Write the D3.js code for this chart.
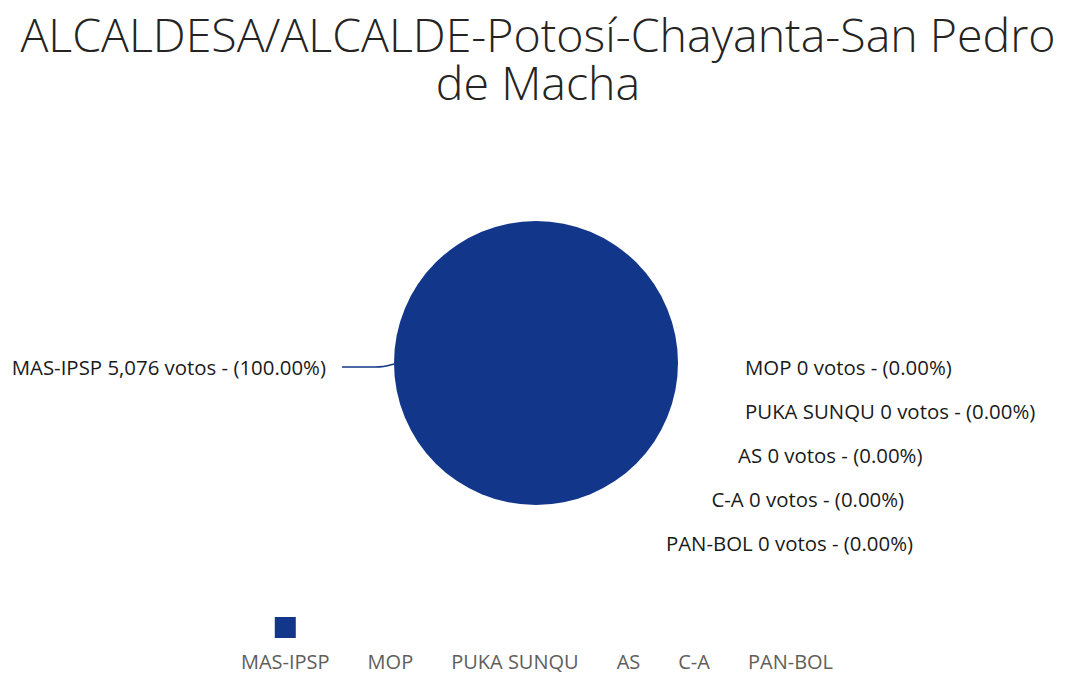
<!DOCTYPE html>
<html>
<head>
<meta charset="utf-8">
<script src="https://cdn.jsdelivr.net/npm/d3@7"></script>
<style>
  body { margin: 0; background: #fff; }
  svg { display: block; }
</style>
</head>
<body>
<div id="chart"></div>
<script>
// pie chart of votes per party, one municipality

var titleLines = ["ALCALDESA/ALCALDE-Potosí-Chayanta-San Pedro", "de Macha"];
var parties = ["MAS-IPSP", "MOP", "PUKA SUNQU", "AS", "C-A", "PAN-BOL"];
var votes = [5076, 0, 0, 0, 0, 0];
var colors = ["#12378a", "#e66c37", "#6b007b", "#e044a7", "#744ec2", "#d9b300"];

var width = 1072, height = 687;
var cx = 536, cy = 363, radius = 142;

var total = d3.sum(votes);
var fmt = d3.format(",");
var pct = function (v) { return "(" + (total ? v / total * 100 : 0).toFixed(2) + "%)"; };

var color = d3.scaleOrdinal().domain(parties).range(colors);

var svg = d3.select("#chart")
    .append("svg")
    .attr("width", width)
    .attr("height", height);

// title, one text element wrapped on two lines
svg.append("text")
    .attr("text-anchor", "middle")
    .style("font-family", "'Open Sans', sans-serif")
    .style("font-weight", 300)
    .style("font-size", "46.5px")
    .style("fill", "#252423")
    .selectAll("tspan")
    .data(titleLines)
    .enter()
    .append("tspan")
    .attr("x", width / 2 + 2)
    .attr("y", function (d, i) { return 52 + i * 48; })
    .text(function (d) { return d; });

var rows = parties.map(function (p, i) { return { party: p, votes: votes[i] }; });

var pie = d3.pie()
    .sort(null)
    .value(function (d) { return d.votes; })
    .startAngle(Math.PI / 2)
    .endAngle(Math.PI / 2 + 2 * Math.PI);

var arcs = pie(rows);
var arc = d3.arc().innerRadius(0).outerRadius(radius);

var g = svg.append("g").attr("transform", "translate(" + cx + "," + cy + ")");

g.selectAll("path.slice")
    .data(arcs.filter(function (d) { return d.data.votes > 0; }))
    .enter()
    .append("path")
    .attr("class", "slice")
    .attr("d", arc)
    .attr("fill", function (d) { return color(d.data.party); });

// labels: non-zero slices get a leader line, zero ones stack on the right
var labelStyle = function (sel) {
    sel.style("font-family", "'Open Sans', sans-serif")
        .style("font-size", "20.4px")
        .style("fill", "#1a1a1a")
        .attr("dominant-baseline", "central");
};

var labelText = function (d) {
    return d.data.party + " " + fmt(d.data.votes) + " votos - " + pct(d.data.votes);
};

var big = arcs.filter(function (d) { return d.data.votes > 0; });
big.forEach(function (d) {
    var mid = (d.startAngle + d.endAngle) / 2;
    var sx = Math.sin(mid), sy = -Math.cos(mid);
    var p0 = [sx * radius, sy * radius + 1];
    var p1 = [sx * (radius + 21), sy * (radius + 21) + 4];
    var p2 = [p1[0] + (sx < 0 ? -31 : 31), p1[1]];
    g.append("path")
        .attr("d", d3.line().curve(d3.curveBasis)([p0, [p0[0] + (p1[0] - p0[0]) * 0.5, p1[1]], p1]) + "L" + p2[0] + "," + p2[1])
        .attr("fill", "none")
        .attr("stroke", color(d.data.party))
        .attr("stroke-width", 1.5);
    g.append("text")
        .attr("x", p2[0] + (sx < 0 ? -16 : 16))
        .attr("y", p2[1])
        .attr("text-anchor", sx < 0 ? "end" : "start")
        .call(labelStyle)
        .text(labelText(d));
});

var small = arcs.filter(function (d) { return d.data.votes === 0; });
var labelR = 222, labelStep = 44, labelMaxX = 209;
small.forEach(function (d, i) {
    var dy = 4 + i * labelStep;
    var dx = Math.min(labelMaxX, Math.sqrt(Math.max(0, labelR * labelR - dy * dy)));
    g.append("text")
        .attr("x", dx)
        .attr("y", dy)
        .attr("text-anchor", "start")
        .call(labelStyle)
        .text(labelText(d));
});

// legend at the bottom, centred
var legend = svg.append("g");
var items = legend.selectAll("g.item")
    .data(rows)
    .enter()
    .append("g")
    .attr("class", "item");

items.append("text")
    .attr("y", 669)
    .attr("text-anchor", "middle")
    .style("font-family", "'Open Sans', sans-serif")
    .style("font-size", "20px")
    .style("fill", "#605e5c")
    .text(function (d) { return d.party; });

items.append("rect")
    .attr("width", 21)
    .attr("height", 21)
    .attr("y", 617)
    .attr("fill", function (d) { return d.votes > 0 ? color(d.party) : "none"; });

var gap = 38, xs = [], run = 0;
items.each(function (d, i) {
    var w = this.querySelector("text").getComputedTextLength();
    xs.push({ start: run, w: w });
    run += w + gap;
});
var legendW = run - gap;
var x0 = cx + 1 - legendW / 2;
items.each(function (d, i) {
    var c = x0 + xs[i].start + xs[i].w / 2;
    d3.select(this).select("text").attr("x", c);
    d3.select(this).select("rect").attr("x", c - 10.5);
});
</script>
</body>
</html>
